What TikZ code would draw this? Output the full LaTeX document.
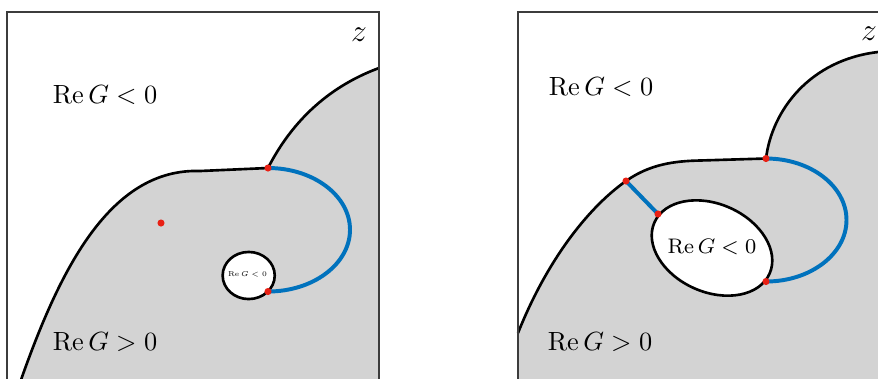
\documentclass[tikz,border=0pt]{standalone}
\usepackage{amsmath}
\usepackage{tikz}
\usetikzlibrary{shapes.geometric}
\definecolor{rGray}{RGB}{211,211,211}
\definecolor{rBlue}{RGB}{0,114,189}
\definecolor{rRed}{RGB}{232,32,20}
\definecolor{rFrame}{RGB}{60,60,60}
\tikzset{
frame/.style={draw=rFrame,line width=0.5pt},
region/.style={fill=rGray},
contour/.style={draw=black,line width=1pt},
cut/.style={draw=rBlue,line width=1.5pt},
hole/.style={ellipse,draw=black,line width=1pt,fill=white,inner sep=0pt},
saddle/.style={circle,fill=rRed,inner sep=0pt,minimum size=2.7pt},
sign/.style={font=\normalsize},
zlabel/.style={font=\large}
}
\newcommand{\ReG}{\operatorname{Re}G}

\begin{document}
\begin{tikzpicture}[x=0.38pt,y=-0.38pt]
\useasboundingbox (0,0) rectangle (878,378);
\clip (0,0) rectangle (878,378);
% left panel
\coordinate (L1) at (268,168);
\coordinate (L2) at (268,291.5);
\coordinate (L3) at (161,223);
\path[region] (22,377) .. controls (60,270) and (110,168) .. (200,171) -- (L1)
  .. controls (290,125) and (325,88) .. (379,68) -- (379,390) -- (18,390) -- cycle;
\draw[contour] (18,390) -- (22,377) .. controls (60,270) and (110,168) .. (200,171) -- (L1);
\draw[contour] (L1) .. controls (290,125) and (325,88) .. (379,68);
\node[hole,minimum width=19.8pt,minimum height=17.9pt] (h1) at (248.7,275.5) {};
\node at (247.5,274) {\scalebox{0.54}{\tiny$\ReG<0$}};
\draw[cut] (L1) arc[start angle=-90,end angle=90,x radius=82,y radius=61.75];
\node[saddle] at (L1) {};
\node[saddle] at (L2) {};
\node[saddle] at (L3) {};
\node[sign] at (105,95) {$\ReG<0$};
\node[sign] at (105,342) {$\ReG>0$};
\node[zlabel] at (359,35) {$z$};
\draw[frame] (7,12) rectangle (379,395);
% right panel
\coordinate (R1) at (766,158.5);
\coordinate (R2) at (766,281.5);
\coordinate (R3) at (626,181);
\coordinate (R4) at (658,214);
\path[region] (518,390) -- (518,333) .. controls (545,265) and (585,210) .. (R3)
  .. controls (650,164) and (675,161) .. (700,160.5) -- (R1)
  .. controls (772,110) and (810,60) .. (878,52) -- (900,49.4) -- (900,390) -- cycle;
\draw[contour] (518,333) .. controls (545,265) and (585,210) .. (R3)
  .. controls (650,164) and (675,161) .. (700,160.5) -- (R1);
\draw[contour] (R1) .. controls (772,110) and (810,60) .. (878,52) -- (900,49.4);
\draw[contour,fill=white,rotate around={-24:(712,248)}] (712,248) ellipse[x radius=63,y radius=44];
\node[font=\footnotesize] at (712,247) {$\ReG<0$};
\draw[cut] (R1) arc[start angle=-90,end angle=90,x radius=80.5,y radius=61.5];
\draw[cut] (R3) -- (R4);
\node[saddle] at (R1) {};
\node[saddle] at (R2) {};
\node[saddle] at (R3) {};
\node[saddle] at (R4) {};
\node[sign] at (601,87) {$\ReG<0$};
\node[sign] at (600,342) {$\ReG>0$};
\node[zlabel] at (869,34) {$z$};
\draw[frame] (518,12) rectangle (895,395);
\end{tikzpicture}
\end{document}
